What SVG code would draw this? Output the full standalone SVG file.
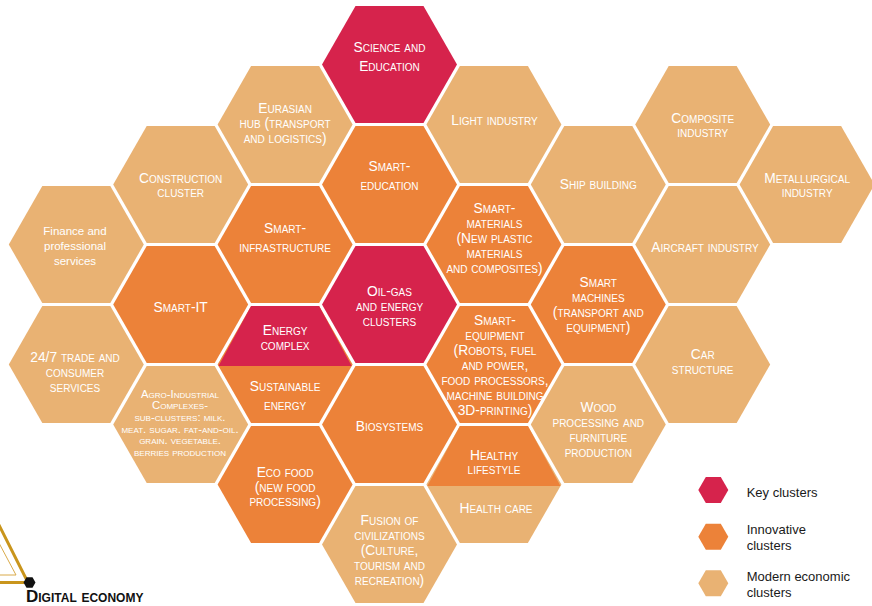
<svg xmlns="http://www.w3.org/2000/svg" xmlns:xlink="http://www.w3.org/1999/xlink" width="872" height="606" viewBox="0 0 872 606">
<defs>
<polygon id="hex" points="-67.5,0 -34,-58.5 34,-58.5 67.5,0 34,58.5 -34,58.5"/>
<polygon id="hexTop" points="-66.6,1.5 -34,-58.5 34,-58.5 66.6,1.5"/>
<polygon id="hexSmall" points="-15,0 -7.5,-13 7.5,-13 15,0 7.5,13 -7.5,13"/>
<style>
.key{fill:#D6234C}
.inn{fill:#EC8239}
.mod{fill:#E9B273}
.lbl{font-family:"Liberation Sans",Arial,sans-serif;font-size:13.8px;font-variant:small-caps;fill:#FFFFFF;text-anchor:middle}
.plain{font-family:"Liberation Sans",Arial,sans-serif;font-size:11.5px;fill:#FFFFFF;text-anchor:middle}
.tiny{font-family:"Liberation Sans",Arial,sans-serif;font-size:11.3px;font-variant:small-caps;fill:#FFFFFF;text-anchor:middle}
.leg{font-family:"Liberation Sans",Arial,sans-serif;font-size:13px;fill:#1A1A1A}
.de{font-family:"Liberation Sans",Arial,sans-serif;font-size:17px;font-weight:bold;font-variant:small-caps;fill:#111111}
</style>
</defs>
<rect width="872" height="606" fill="#FFFFFF"/>
<g id="connectors"/>

<g id="science"><use xlink:href="#hex" class="key" transform="translate(389.5,64.5)"/>
<text class="lbl"><tspan x="389.5" y="52.3">Science and</tspan><tspan x="389.5" y="71">Education</tspan></text></g>

<g id="eurasian-hub"><use xlink:href="#hex" class="mod" transform="translate(285.1,124.5)"/>
<text class="lbl"><tspan x="285.1" y="113.3">Eurasian</tspan><tspan x="285.1" y="128.3">hub (transport</tspan><tspan x="285.1" y="142.7">and logistics)</tspan></text></g>

<g id="light-industry"><use xlink:href="#hex" class="mod" transform="translate(493.9,124.5)"/>
<text class="lbl"><tspan x="494.5" y="124.7">Light industry</tspan></text></g>

<g id="composite-industry"><use xlink:href="#hex" class="mod" transform="translate(702.7,124.5)"/>
<text class="lbl"><tspan x="702.7" y="122.7">Composite</tspan><tspan x="702.7" y="137.3">industry</tspan></text></g>

<g id="construction-cluster"><use xlink:href="#hex" class="mod" transform="translate(180.7,184.5)"/>
<text class="lbl"><tspan x="180.7" y="182.7">Construction</tspan><tspan x="180.7" y="197.3">cluster</tspan></text></g>

<g id="smart-education"><use xlink:href="#hex" class="inn" transform="translate(389.5,184.5)"/>
<text class="lbl"><tspan x="389.5" y="170.7">Smart-</tspan><tspan x="389.5" y="190">education</tspan></text></g>

<g id="ship-building"><use xlink:href="#hex" class="mod" transform="translate(598.3,184.5)"/>
<text class="lbl"><tspan x="598.3" y="189.3">Ship building</tspan></text></g>

<g id="metallurgical-industry"><use xlink:href="#hex" class="mod" transform="translate(807.1,184.5)"/>
<text class="lbl"><tspan x="807.1" y="182.7">Metallurgical</tspan><tspan x="807.1" y="197.3">industry</tspan></text></g>

<g id="finance"><use xlink:href="#hex" class="mod" transform="translate(76.3,244.5)"/>
<text class="plain"><tspan x="75" y="235">Finance and</tspan><tspan x="75" y="250">professional</tspan><tspan x="75" y="265">services</tspan></text></g>

<g id="smart-infrastructure"><use xlink:href="#hex" class="inn" transform="translate(285.1,244.5)"/>
<text class="lbl"><tspan x="285.1" y="233.3">Smart-</tspan><tspan x="285.1" y="252.3">infrastructure</tspan></text></g>

<g id="smart-materials"><use xlink:href="#hex" class="inn" transform="translate(493.9,244.5)"/>
<text class="lbl"><tspan x="494.5" y="213.3">Smart-</tspan><tspan x="494.5" y="228.3">materials</tspan><tspan x="494.5" y="243.3">(New plastic</tspan><tspan x="494.5" y="258.3">materials</tspan><tspan x="494.5" y="273.3">and composites)</tspan></text></g>

<g id="aircraft-industry"><use xlink:href="#hex" class="mod" transform="translate(702.7,244.5)"/>
<text class="lbl"><tspan x="705" y="251.7">Aircraft industry</tspan></text></g>

<g id="smart-it"><use xlink:href="#hex" class="inn" transform="translate(180.7,304.5)"/>
<text class="lbl"><tspan x="180.7" y="312.3">Smart-IT</tspan></text></g>

<g id="oil-gas"><use xlink:href="#hex" class="key" transform="translate(389.5,304.5)"/>
<text class="lbl"><tspan x="389.5" y="296">Oil-gas</tspan><tspan x="389.5" y="310.7">and energy</tspan><tspan x="389.5" y="326">clusters</tspan></text></g>

<g id="smart-machines"><use xlink:href="#hex" class="inn" transform="translate(598.3,304.5)"/>
<text class="lbl"><tspan x="598.3" y="287.3">Smart</tspan><tspan x="598.3" y="302.3">machines</tspan><tspan x="598.3" y="317.3">(transport and</tspan><tspan x="598.3" y="332.3">equipment)</tspan></text></g>

<g id="trade-services"><use xlink:href="#hex" class="mod" transform="translate(76.3,364.5)"/>
<text class="lbl"><tspan x="75" y="362.3">24/7 trade and</tspan><tspan x="75" y="377.3">consumer</tspan><tspan x="75" y="392.3">services</tspan></text></g>

<g id="energy-complex"><use xlink:href="#hex" class="inn" transform="translate(285.1,364.5)"/>
<use xlink:href="#hexTop" class="key" transform="translate(285.1,364.5)"/>
<text class="lbl"><tspan x="285.1" y="335">Energy</tspan><tspan x="285.1" y="350">complex</tspan></text>
<text class="lbl"><tspan x="285.1" y="391">Sustainable</tspan><tspan x="285.1" y="410">energy</tspan></text></g>

<g id="smart-equipment"><use xlink:href="#hex" class="inn" transform="translate(493.9,364.5)"/>
<text class="lbl"><tspan x="495" y="325">Smart-</tspan><tspan x="495" y="340">equipment</tspan><tspan x="495" y="355">(Robots, fuel</tspan><tspan x="495" y="370">and power,</tspan><tspan x="495" y="385">food processors,</tspan><tspan x="495" y="400">machine building</tspan><tspan x="495" y="415">3D-printing)</tspan></text></g>

<g id="car-structure"><use xlink:href="#hex" class="mod" transform="translate(702.7,364.5)"/>
<text class="lbl"><tspan x="702.7" y="359.3">Car</tspan><tspan x="702.7" y="374">structure</tspan></text></g>

<g id="agro-industrial"><use xlink:href="#hex" class="mod" transform="translate(180.7,424.5)"/>
<text class="tiny"><tspan x="180" y="397.7">Agro-Industrial</tspan><tspan x="180" y="409.3">Complexes-</tspan><tspan x="180" y="421">sub-clusters: milk.</tspan><tspan x="180" y="432.6">meat. sugar. fat-and-oil.</tspan><tspan x="180" y="444.2">grain. vegetable.</tspan><tspan x="180" y="455.8">berries production</tspan></text></g>

<g id="biosystems"><use xlink:href="#hex" class="inn" transform="translate(389.5,424.5)"/>
<text class="lbl"><tspan x="389.5" y="430.7">Biosystems</tspan></text></g>

<g id="wood-processing"><use xlink:href="#hex" class="mod" transform="translate(598.3,424.5)"/>
<text class="lbl"><tspan x="598.3" y="411.7">Wood</tspan><tspan x="598.3" y="426.7">processing and</tspan><tspan x="598.3" y="441.7">furniture</tspan><tspan x="598.3" y="456.7">production</tspan></text></g>

<g id="eco-food"><use xlink:href="#hex" class="inn" transform="translate(285.1,484.5)"/>
<text class="lbl"><tspan x="285.1" y="477.3">Eco food</tspan><tspan x="285.1" y="491.7">(new food</tspan><tspan x="285.1" y="506">processing)</tspan></text></g>

<g id="healthy-lifestyle"><use xlink:href="#hex" class="mod" transform="translate(493.9,484.5)"/>
<use xlink:href="#hexTop" class="inn" transform="translate(493.9,484.5)"/>
<text class="lbl"><tspan x="494" y="460">Healthy</tspan><tspan x="494" y="474">lifestyle</tspan></text>
<text class="lbl"><tspan x="496" y="513.3">Health care</tspan></text></g>

<g id="fusion-of-civilizations"><use xlink:href="#hex" class="mod" transform="translate(389.5,544.5)"/>
<text class="lbl"><tspan x="389.5" y="525">Fusion of</tspan><tspan x="389.5" y="540">civilizations</tspan><tspan x="389.5" y="555">(Culture,</tspan><tspan x="389.5" y="570">tourism and</tspan><tspan x="389.5" y="585">recreation)</tspan></text></g>

<g id="digital-economy">
<polyline points="-2,523 28,582.5 -2,582.5" fill="none" stroke="#C9951C" stroke-width="3"/>
<polyline points="-1,543 16,575 -1,575" fill="none" stroke="#D9AA4A" stroke-width="1"/>
<polygon points="23.5,582.5 26.5,577.3 32.5,577.3 35.5,582.5 32.5,587.7 26.5,587.7" fill="#111111"/>
<text class="de" x="26" y="601.5">Digital economy</text>
</g>

<g id="legend">
<use xlink:href="#hexSmall" class="key" transform="translate(713.3,490)"/>
<text class="leg" x="746.7" y="496.7">Key clusters</text>
<use xlink:href="#hexSmall" class="inn" transform="translate(713.3,536.7)"/>
<text class="leg"><tspan x="746.7" y="534">Innovative</tspan><tspan x="746.7" y="550">clusters</tspan></text>
<use xlink:href="#hexSmall" class="mod" transform="translate(713.3,583.3)"/>
<text class="leg"><tspan x="746.7" y="580.7">Modern economic</tspan><tspan x="746.7" y="596.7">clusters</tspan></text>
</g>
</svg>
